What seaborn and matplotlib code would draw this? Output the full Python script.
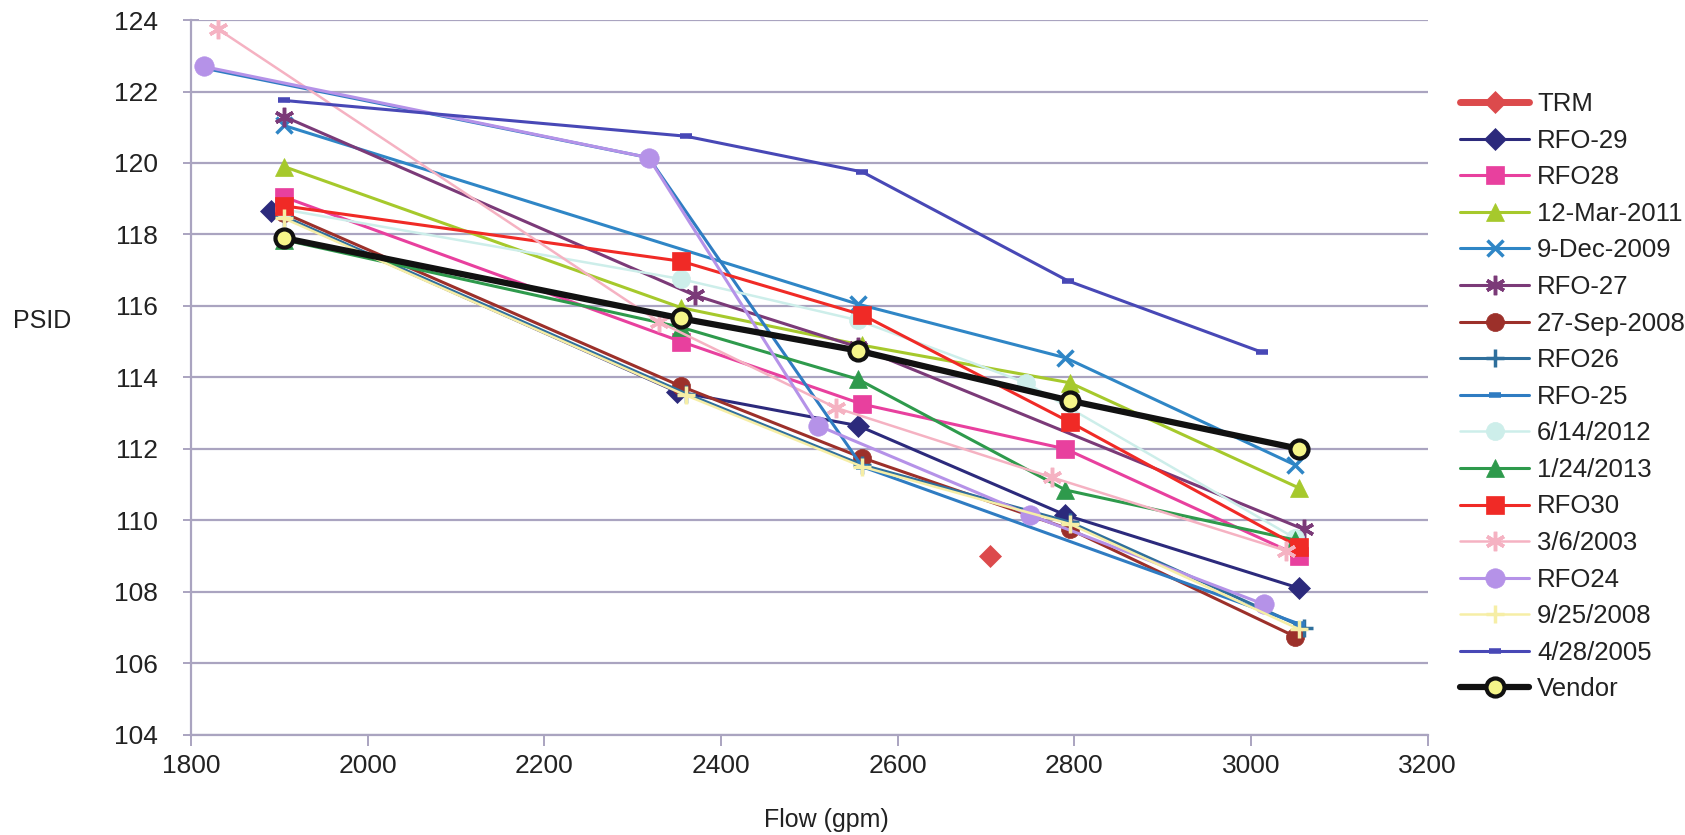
import numpy as np
import matplotlib
matplotlib.use("Agg")
import matplotlib.pyplot as plt
import seaborn as sns

# flow (gpm) / PSID per test series
flow_trm = [2705]
psid_trm = [109.0]
flow_rfo29 = [1890, 2350, 2555, 2790, 3055]
psid_rfo29 = [118.65, 113.6, 112.65, 110.15, 108.1]
flow_rfo28 = [1905, 2355, 2560, 2790, 3055]
psid_rfo28 = [119.05, 115.0, 113.25, 112.0, 109.0]
flow_mar2011 = [1905, 2355, 2560, 2795, 3055]
psid_mar2011 = [119.9, 115.95, 114.9, 113.85, 110.9]
flow_dec2009 = [1905, 2555, 2790, 3050]
psid_dec2009 = [121.05, 116.05, 114.55, 111.55]
flow_rfo27 = [1905, 2370, 2555, 3060]
psid_rfo27 = [121.3, 116.3, 114.85, 109.75]
flow_sep2008 = [1905, 2355, 2560, 2795, 3050]
psid_sep2008 = [118.6, 113.75, 111.75, 109.75, 106.75]
flow_rfo26 = [1905, 2360, 2560, 2795, 3060]
psid_rfo26 = [118.5, 113.55, 111.55, 109.95, 107.0]
flow_rfo25 = [1815, 2318, 2560, 3055]
psid_rfo25 = [122.65, 120.15, 111.5, 107.1]
flow_jun2012 = [1905, 2355, 2555, 2745, 3050]
psid_jun2012 = [118.7, 116.75, 115.6, 113.85, 109.5]
flow_jan2013 = [1905, 2355, 2555, 2790, 3050]
psid_jan2013 = [117.85, 115.4, 113.95, 110.85, 109.45]
flow_rfo30 = [1905, 2355, 2560, 2795, 3055]
psid_rfo30 = [118.8, 117.25, 115.75, 112.75, 109.25]
flow_mar2003 = [1830, 2330, 2530, 2775, 3040]
psid_mar2003 = [123.75, 115.55, 113.15, 111.2, 109.15]
flow_rfo24 = [1814, 2318, 2510, 2750, 3015]
psid_rfo24 = [122.7, 120.15, 112.65, 110.15, 107.65]
flow_sep2008b = [1905, 2360, 2560, 2795, 3055]
psid_sep2008b = [118.45, 113.5, 111.5, 109.9, 106.95]
flow_apr2005 = [1905, 2360, 2560, 2793, 3013]
psid_apr2005 = [121.75, 120.75, 119.75, 116.7, 114.7]
flow_vendor = [1905, 2355, 2555, 2795, 3055]
psid_vendor = [117.9, 115.65, 114.75, 113.35, 112.0]

ASTER = (6, 2, 0)

# name, x, y, color, marker, markersize, linewidth
series = [
    ("TRM", flow_trm, psid_trm, "#dc4a4c", "D", 11, 5.0),
    ("RFO-29", flow_rfo29, psid_rfo29, "#2c2a7c", "D", 11, 2.2),
    ("RFO28", flow_rfo28, psid_rfo28, "#e8409e", "s", 13, 2.2),
    ("12-Mar-2011", flow_mar2011, psid_mar2011, "#a6c92c", "^", 13, 2.2),
    ("9-Dec-2009", flow_dec2009, psid_dec2009, "#2f86c6", "x", 12, 2.2),
    ("RFO-27", flow_rfo27, psid_rfo27, "#7b3a78", ASTER, 14, 2.2),
    ("27-Sep-2008", flow_sep2008, psid_sep2008, "#9c302a", "o", 13, 2.2),
    ("RFO26", flow_rfo26, psid_rfo26, "#2f6f9c", "+", 13, 2.2),
    ("RFO-25", flow_rfo25, psid_rfo25, "#2f7cc2", "_", 8, 2.2),
    ("6/14/2012", flow_jun2012, psid_jun2012, "#cdeeea", "o", 13, 1.8),
    ("1/24/2013", flow_jan2013, psid_jan2013, "#2e9a4c", "^", 13, 2.2),
    ("RFO30", flow_rfo30, psid_rfo30, "#f02a26", "s", 13, 2.2),
    ("3/6/2003", flow_mar2003, psid_mar2003, "#f5b2c2", ASTER, 14, 1.8),
    ("RFO24", flow_rfo24, psid_rfo24, "#b592e8", "o", 14, 2.2),
    ("9/25/2008", flow_sep2008b, psid_sep2008b, "#f6eea6", "+", 13, 1.8),
    ("4/28/2005", flow_apr2005, psid_apr2005, "#4848b6", "_", 8, 2.2),
    ("Vendor", flow_vendor, psid_vendor, "#111111", "o", 13, 4.5),
]

sns.set_style("white")
plt.rcParams["font.family"] = ["Liberation Sans", "DejaVu Sans"]

fig = plt.figure(figsize=(16.85, 8.35), dpi=100)
ax = fig.add_axes([0.1135, 0.12, 0.7337, 0.856])

for i, (name, fx, py, col, mk, ms, lw) in enumerate(series):
    unfilled = mk in ("x", "+", "_") or mk == ASTER
    kw = dict(markeredgecolor=col, markeredgewidth=2.5 if unfilled else 0.5)
    if mk == "_":
        kw["markeredgewidth"] = 4
    face = col
    if name == "Vendor":
        face = "#f6f68a"
        kw = dict(markeredgecolor="#111111", markeredgewidth=3)
    sns.lineplot(x=fx, y=py, ax=ax, color=col, marker=mk, markersize=ms,
                 markerfacecolor=face, linewidth=lw, label=name, sort=False,
                 estimator=None, zorder=20 if name == "Vendor" else 3 + i * 0.1,
                 **kw)

grid_c = "#aaa4c0"
ax.set_xlim(1800, 3200)
ax.set_ylim(104, 124)
ax.set_xticks(np.arange(1800, 3201, 200))
ax.set_yticks(np.arange(104, 125, 2))
ax.yaxis.grid(True, color=grid_c, linewidth=1.6)
ax.xaxis.grid(False)
for s in ("top", "right"):
    ax.spines[s].set_visible(False)
for s in ("left", "bottom"):
    ax.spines[s].set_color(grid_c)
    ax.spines[s].set_linewidth(1.6)
ax.tick_params(axis="y", direction="inout", length=12, width=1.4, color=grid_c,
               labelsize=19, pad=18, labelcolor="#222222", left=True)
ax.tick_params(axis="x", direction="out", length=8, width=1.4, color=grid_c,
               labelsize=19, pad=6, labelcolor="#222222", bottom=True)

ax.set_xlabel("Flow (gpm)", fontsize=18, color="#222222", va="top")
ax.xaxis.set_label_coords(0.514, -0.102)
ax.set_ylabel("PSID", fontsize=18, color="#222222", rotation=0,
              va="center", ha="center")
ax.yaxis.set_label_coords(-0.121, 0.579)

handles, labels = ax.get_legend_handles_labels()
ax.get_legend().remove()
fig.legend(handles, labels, loc="upper left",
           bbox_to_anchor=(1460 / 1685, 1 - 92 / 835),
           frameon=False, fontsize=18.5, labelspacing=0.49, handlelength=2.7,
           handletextpad=0.3, borderpad=0, borderaxespad=0, labelcolor="#222222")

fig.savefig("out.png", dpi=100, facecolor="white")
